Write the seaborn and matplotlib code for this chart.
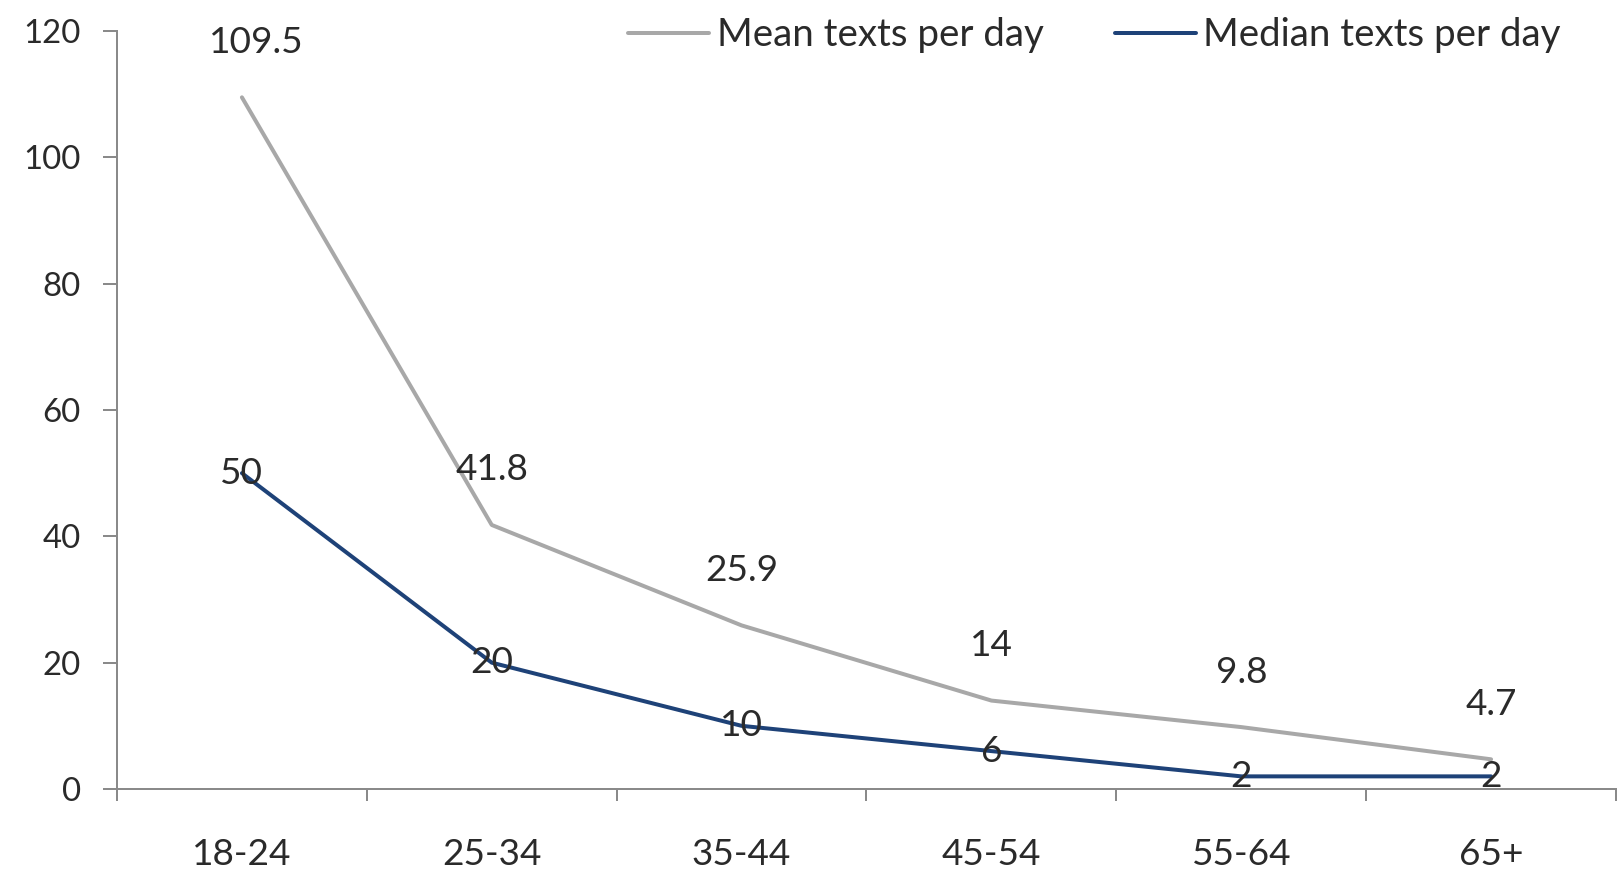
import numpy as np
import matplotlib
matplotlib.use("Agg")
import matplotlib.pyplot as plt
from matplotlib.ticker import FixedLocator
import seaborn as sns

# Texting volume by age group
age_groups = ["18-24", "25-34", "35-44", "45-54", "55-64", "65+"]
mean_texts = [109.5, 41.8, 25.9, 14, 9.8, 4.7]
median_texts = [50, 20, 10, 6, 2, 2]
y_ticks = [0, 20, 40, 60, 80, 100, 120]

MEAN_COLOR = "#A8A8A8"
MEDIAN_COLOR = "#1E4278"
TEXT_COLOR = "#2a2a2a"
AXIS_COLOR = "#8a8a8a"
FS_Y = 33
FS_X = 37
FS_LABEL = 37
FS_LEGEND = 38.5

sns.set_theme(style="white")
plt.rcParams["font.family"] = ["Lato", "DejaVu Sans"]

DPI = 72
W, H = 1621, 873
fig = plt.figure(figsize=(W / DPI, H / DPI), dpi=DPI)
fig.patch.set_facecolor("white")
ax = fig.add_axes([117 / W, 84 / H, 1499 / W, 758 / H])

x = np.arange(len(age_groups))
sns.lineplot(x=x, y=mean_texts, color=MEAN_COLOR, linewidth=4,
             label="Mean texts per day", ax=ax)
sns.lineplot(x=x, y=median_texts, color=MEDIAN_COLOR, linewidth=4,
             label="Median texts per day", ax=ax)

# Value labels: mean above its point, median centred on its point
for xi, v in zip(x, mean_texts):
    dx = 14 if xi == 0 else 0
    ax.annotate(f"{v:g}", (xi, v), xytext=(dx, 55), textcoords="offset points",
                ha="center", va="center", fontsize=FS_LABEL, color=TEXT_COLOR)
for xi, v in zip(x, median_texts):
    ax.annotate(f"{v:g}", (xi, v), xytext=(0, 0), textcoords="offset points",
                ha="center", va="center", fontsize=FS_LABEL, color=TEXT_COLOR)

ax.set_xlim(-0.5, len(age_groups) - 0.5)
ax.set_ylim(0, 120)
ax.set_yticks(y_ticks)
ax.set_xticks(x)
ax.set_xticklabels(age_groups)
ax.xaxis.set_minor_locator(FixedLocator(np.arange(-0.5, len(age_groups), 1.0)))

for side in ("top", "right"):
    ax.spines[side].set_visible(False)
for side in ("left", "bottom"):
    ax.spines[side].set_color(AXIS_COLOR)
    ax.spines[side].set_linewidth(2)

ax.tick_params(axis="x", which="major", length=0, pad=49,
               labelsize=FS_X, labelcolor=TEXT_COLOR)
ax.tick_params(axis="x", which="minor", bottom=True, length=12, width=2,
               color=AXIS_COLOR, direction="out")
ax.tick_params(axis="y", left=True, length=14, width=2, color=AXIS_COLOR,
               direction="out", pad=22, labelsize=FS_Y, labelcolor=TEXT_COLOR)
ax.set_xlabel("")
ax.set_ylabel("")

ax.legend(loc="center left", bbox_to_anchor=(628 / W, 1 - 35 / H),
          bbox_transform=fig.transFigure, ncol=2, frameon=False,
          borderpad=0, borderaxespad=0, handlelength=2.1,
          handletextpad=0.2, columnspacing=1.85, fontsize=FS_LEGEND,
          labelcolor=TEXT_COLOR)

fig.savefig("out.png", dpi=DPI, facecolor="white")
